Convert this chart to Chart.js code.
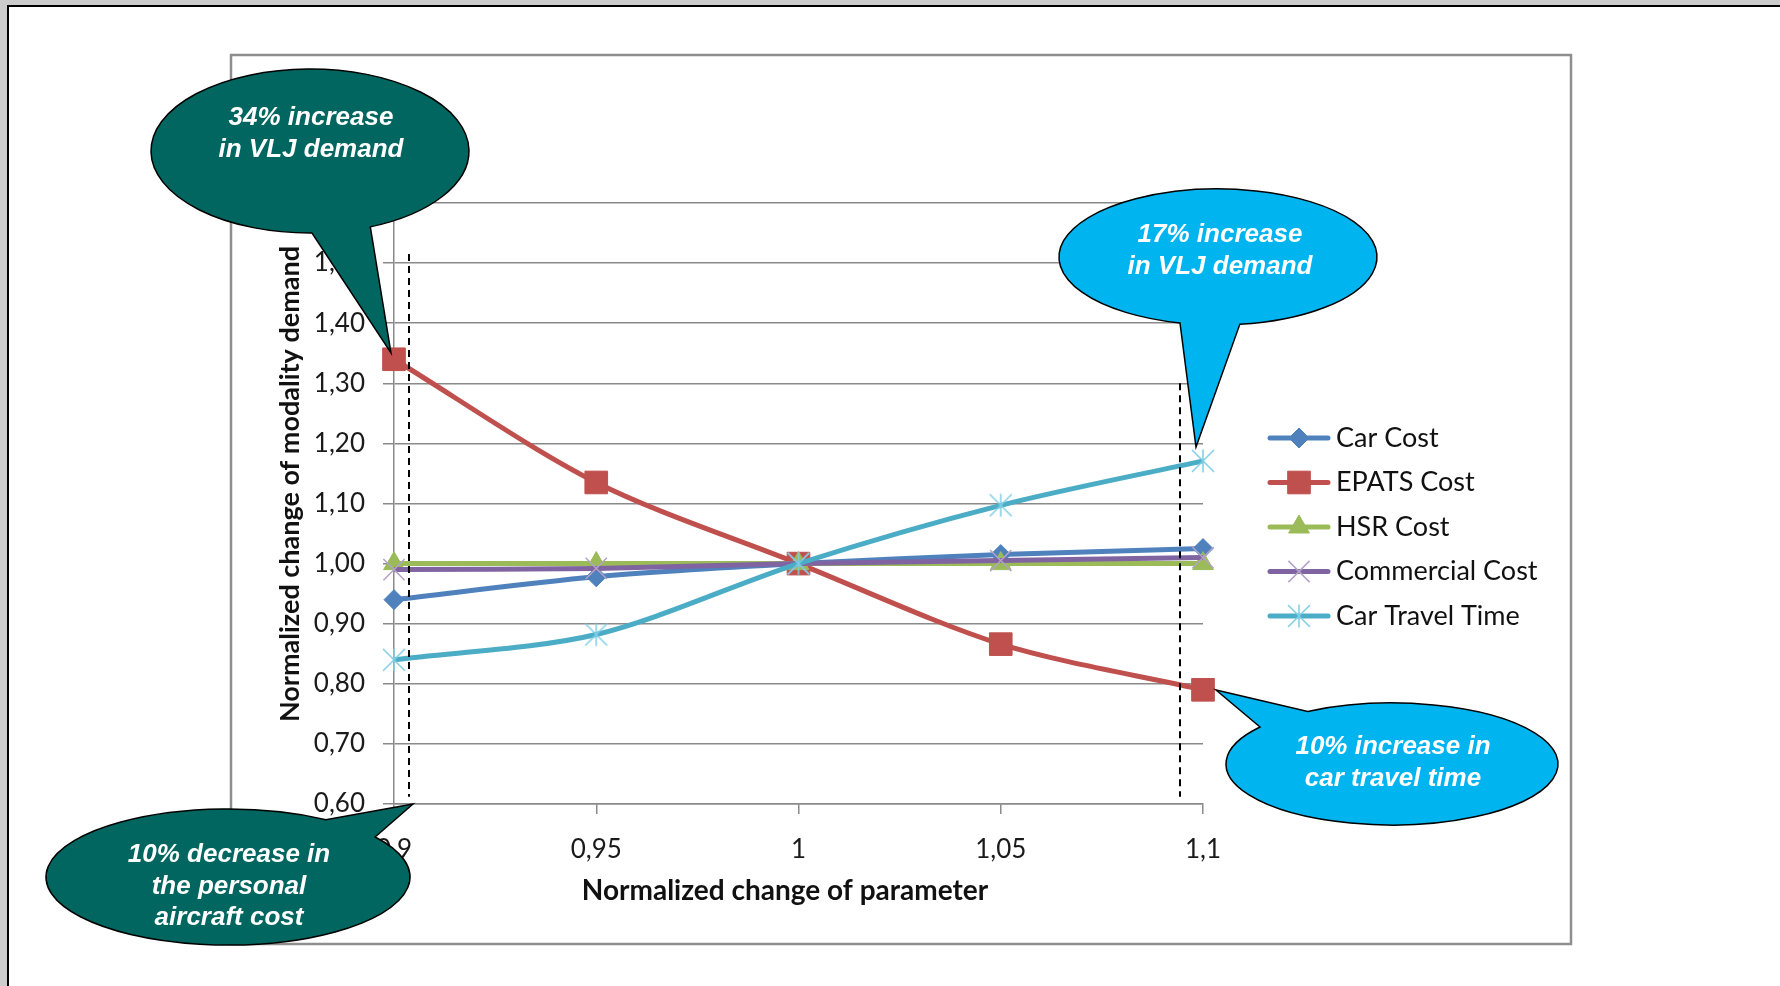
<!DOCTYPE html>
<html>
<head>
<meta charset="utf-8">
<title>Normalized change of modality demand</title>
<script src="https://cdn.jsdelivr.net/npm/chart.js@4.4.1/dist/chart.umd.min.js"></script>
<style>
    html, body { margin: 0; padding: 0; background: #cccccc; overflow: hidden; }
    #page {
        position: absolute; left: 7px; top: 5px; right: 0; bottom: 0;
        background: #ffffff; border-left: 2px solid #000; border-top: 2px solid #000;
    }
    #chart { position: absolute; left: 0; top: 0; }
</style>
</head>
<body>
<div id="page"></div>
<canvas id="chart" width="1780" height="986"></canvas>
<script>
// Chart data
const xLabels = ['0,9', '0,95', '1', '1,05', '1,1'];
const carCost = [0.94, 0.978, 1.0, 1.015, 1.025];
const epatsCost = [1.34, 1.135, 1.0, 0.866, 0.79];
const hsrCost = [1.0, 1.0, 1.0, 1.0, 1.0];
const commercialCost = [0.99, 0.992, 1.0, 1.005, 1.01];
const carTravelTime = [0.84, 0.882, 1.0, 1.097, 1.171];
const seriesNames = ['Car Cost', 'EPATS Cost', 'HSR Cost', 'Commercial Cost', 'Car Travel Time'];
const yMin = 0.6;
const yMax = 1.6;
const yStep = 0.1;

// Dashed guide lines (x as category index, y in data units)
const guides = [
    { x: 0.074, from: 1.515, to: 0.612 },
    { x: 3.888, from: 1.30, to: 0.612 }
];

// Speech bubbles drawn over the chart
const callouts = [
    { lines: ['34% increase', 'in VLJ demand'], fill: '#00665f',
      cx: 310, cy: 151, rx: 159, ry: 82, base: [[312, 233], [372, 229]], tip: [391, 353], textX: 311, textY: 118 },
    { lines: ['17% increase', 'in VLJ demand'], fill: '#00b4f0',
      cx: 1218, cy: 257, rx: 159, ry: 68, base: [[1180, 323], [1240, 325]], tip: [1196, 447], textX: 1220, textY: 235 },
    { lines: ['10% decrease in', 'the personal', 'aircraft cost'], fill: '#00665f',
      cx: 228, cy: 877, rx: 182, ry: 68, base: [[327, 819], [375, 837]], tip: [413, 804], textX: 229, textY: 855 },
    { lines: ['10% increase in', 'car travel time'], fill: '#00b4f0',
      cx: 1392, cy: 764, rx: 166, ry: 61, base: [[1260, 727], [1307, 711]], tip: [1216, 690], textX: 1393, textY: 747 }
];

// Excel-like asterisk marker (vertical bar plus an X)
function makeAsterisk(color) {
    const c = document.createElement('canvas');
    c.width = 26;
    c.height = 26;
    const g = c.getContext('2d');
    g.strokeStyle = color;
    g.lineWidth = 1.5;
    g.beginPath();
    g.moveTo(13, 1.5); g.lineTo(13, 24.5);
    g.moveTo(2, 2); g.lineTo(24, 24);
    g.moveTo(24, 2); g.lineTo(2, 24);
    g.stroke();
    return c;
}

function drawCallout(ctx, c) {
    const angle = p => Math.atan2((p[1] - c.cy) / c.ry, (p[0] - c.cx) / c.rx);
    let a = angle(c.base[0]);
    let b = angle(c.base[1]);
    let d = b - a;
    while (d < 0) d += Math.PI * 2;
    if (d > Math.PI) { const t = a; a = b; b = t; }
    ctx.beginPath();
    ctx.ellipse(c.cx, c.cy, c.rx, c.ry, 0, b, a, false);
    ctx.lineTo(c.tip[0], c.tip[1]);
    ctx.closePath();
    ctx.fillStyle = c.fill;
    ctx.fill();
    ctx.strokeStyle = '#000';
    ctx.lineWidth = 1.5;
    ctx.stroke();

    ctx.fillStyle = '#ffffff';
    ctx.font = 'italic bold 26px "Liberation Sans", Arial, sans-serif';
    ctx.textAlign = 'center';
    ctx.textBaseline = 'middle';
    c.lines.forEach((line, i) => ctx.fillText(line, c.textX, c.textY + i * 31.5));
}

const figurePlugin = {
    id: 'figure',
    beforeDraw(chart) {
        const ctx = chart.ctx;
        ctx.save();
        ctx.strokeStyle = '#8e8e8e';
        ctx.lineWidth = 2.5;
        ctx.strokeRect(231, 55, 1340, 889);
        ctx.restore();
    },
    afterDatasetsDraw(chart) {
        const { ctx, scales: { x, y } } = chart;
        ctx.save();
        ctx.strokeStyle = '#000';
        ctx.lineWidth = 2;
        ctx.setLineDash([7, 5]);
        guides.forEach(g => {
            const px = Math.round(x.getPixelForValue(g.x));
            ctx.beginPath();
            ctx.moveTo(px, y.getPixelForValue(g.from));
            ctx.lineTo(px, y.getPixelForValue(g.to));
            ctx.stroke();
        });
        ctx.restore();
    },
    afterDraw(chart) {
        const ctx = chart.ctx;
        ctx.save();

        // Axis titles
        ctx.fillStyle = '#111';
        ctx.textAlign = 'center';
        ctx.textBaseline = 'middle';
        ctx.font = 'bold 28px Lato, sans-serif';
        ctx.fillText('Normalized change of parameter', 785, 891);
        ctx.save();
        ctx.translate(290, 484);
        ctx.rotate(-Math.PI / 2);
        ctx.font = 'bold 27px Lato, sans-serif';
        ctx.fillText('Normalized change of modality demand', 0, 0);
        ctx.restore();

        // Legend
        chart.data.datasets.forEach((ds, i) => {
            const ly = 438 + i * 44.5;
            ctx.strokeStyle = ds.borderColor;
            ctx.lineWidth = 5;
            ctx.lineCap = 'round';
            ctx.beginPath();
            ctx.moveTo(1270, ly);
            ctx.lineTo(1328, ly);
            ctx.stroke();
            ctx.lineCap = 'butt';
            ctx.fillStyle = ds.pointBackgroundColor;
            ctx.strokeStyle = ds.pointBorderColor;
            ctx.lineWidth = ds.pointBorderWidth;
            Chart.helpers.drawPoint(ctx, {
                pointStyle: ds.pointStyle,
                radius: ds.pointRadius,
                rotation: 0,
                borderWidth: ds.pointBorderWidth
            }, 1299, ly);
            ctx.fillStyle = '#111';
            ctx.font = '27px Lato, sans-serif';
            ctx.textAlign = 'left';
            ctx.textBaseline = 'middle';
            ctx.fillText(ds.label, 1336, ly);
        });

        // Callouts on top of everything
        callouts.forEach(c => drawCallout(ctx, c));
        ctx.restore();
    }
};

function series(i, data, color, style, extra) {
    return Object.assign({
        label: seriesNames[i],
        data: data,
        borderColor: color,
        backgroundColor: color,
        borderWidth: 5,
        pointStyle: style,
        pointBackgroundColor: color,
        pointBorderColor: color,
        pointBorderWidth: 1,
        tension: 0.3,
        clip: false,
        order: 4 - i
    }, extra || {});
}

const gridColor = '#8a8a8a';

new Chart(document.getElementById('chart'), {
    type: 'line',
    data: {
        labels: xLabels,
        datasets: [
            series(0, carCost, '#4f81bd', 'rectRot', { pointRadius: 10 }),
            series(1, epatsCost, '#c0504d', 'rect', { pointRadius: 16 }),
            series(2, hsrCost, '#9bbb59', 'triangle', { pointRadius: 12 }),
            series(3, commercialCost, '#8064a2', 'crossRot',
                { pointRadius: 15, pointBorderColor: '#b3a2c7', pointBorderWidth: 1.5 }),
            series(4, carTravelTime, '#4bacc6', makeAsterisk('#7fcde4'),
                { pointRadius: 12, pointBorderColor: '#7fcde4', pointBorderWidth: 1.5 })
        ]
    },
    options: {
        responsive: false,
        devicePixelRatio: 1,
        animation: false,
        layout: { padding: { left: 294, top: 203, right: 577, bottom: 102 } },
        plugins: {
            legend: { display: false },
            tooltip: { enabled: false }
        },
        scales: {
            x: {
                type: 'category',
                offset: false,
                afterFit: scale => { scale.height = 80; },
                grid: { drawOnChartArea: false, drawTicks: true, tickLength: 10, color: gridColor, lineWidth: 1.5 },
                border: { display: true, color: gridColor, width: 1.5 },
                ticks: { font: { family: 'Lato', size: 26 }, color: '#1a1a1a', padding: 20, maxRotation: 0 }
            },
            y: {
                min: yMin,
                max: yMax,
                afterFit: scale => { scale.width = 100; },
                grid: { color: gridColor, lineWidth: 1.5, tickLength: 11 },
                border: { display: true, color: gridColor, width: 1.5 },
                ticks: {
                    stepSize: yStep,
                    font: { family: 'Lato', size: 26 },
                    color: '#1a1a1a',
                    padding: 18,
                    callback: v => v.toFixed(2).replace('.', ',')
                }
            }
        }
    },
    plugins: [figurePlugin]
});
</script>
</body>
</html>
